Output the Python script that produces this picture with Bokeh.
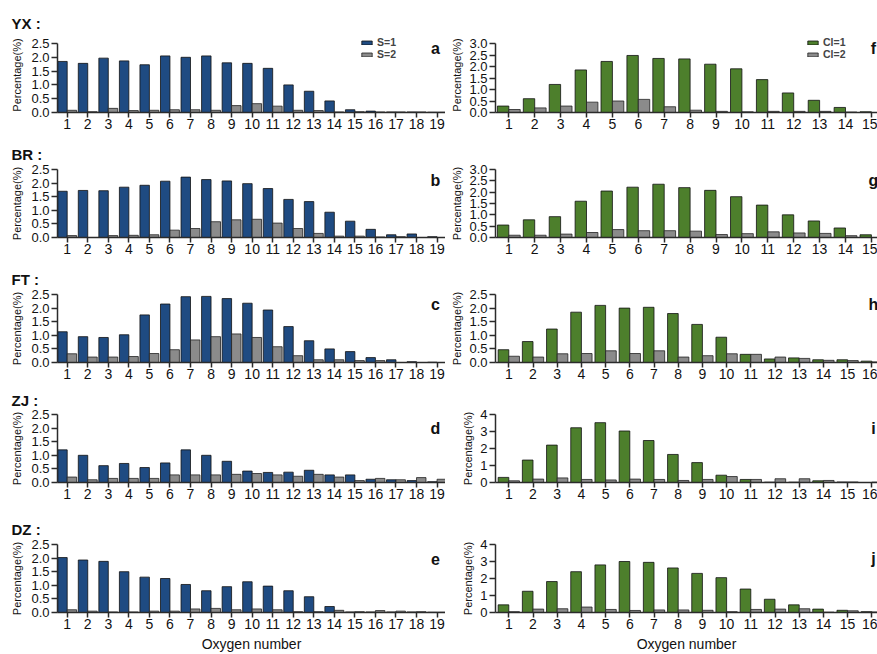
from bokeh.plotting import figure
from bokeh.layouts import column, row
from bokeh.models import (FixedTicker, PrintfTickFormatter, Label, Legend,
                          LegendItem, ColumnDataSource, Title)
from bokeh.transform import dodge
from bokeh.embed import file_html
from bokeh.resources import INLINE

# ---- data: percentage of formulas by oxygen number ----
oxygen_s = list(range(1, 20))
oxygen_cl_short = list(range(1, 16))
oxygen_cl_long = list(range(1, 17))

sites = ["YX", "BR", "FT", "ZJ", "DZ"]

# S-containing compounds (S=1 / S=2)
yx_s1 = [1.85, 1.78, 1.97, 1.87, 1.73, 2.05, 2.00, 2.05, 1.80, 1.78, 1.60, 1.00, 0.77, 0.42, 0.10, 0.05, 0.02, 0.02, 0.01]
yx_s2 = [0.08, 0.03, 0.15, 0.07, 0.08, 0.10, 0.10, 0.08, 0.25, 0.32, 0.23, 0.08, 0.07, 0.02, 0.03, 0.02, 0.02, 0.02, 0.01]
br_s1 = [1.70, 1.73, 1.72, 1.85, 1.92, 2.07, 2.22, 2.13, 2.08, 1.98, 1.80, 1.40, 1.32, 0.93, 0.60, 0.30, 0.10, 0.13, 0.03]
br_s2 = [0.07, 0.00, 0.07, 0.08, 0.10, 0.27, 0.33, 0.58, 0.65, 0.67, 0.53, 0.33, 0.15, 0.05, 0.05, 0.02, 0.03, 0.00, 0.00]
ft_s1 = [1.13, 0.95, 0.92, 1.02, 1.75, 2.15, 2.42, 2.43, 2.35, 2.18, 1.93, 1.32, 0.80, 0.50, 0.40, 0.18, 0.10, 0.03, 0.01]
ft_s2 = [0.32, 0.20, 0.20, 0.22, 0.33, 0.47, 0.83, 0.95, 1.05, 0.92, 0.58, 0.25, 0.10, 0.10, 0.07, 0.07, 0.00, 0.00, 0.00]
zj_s1 = [1.20, 1.00, 0.62, 0.70, 0.55, 0.72, 1.20, 1.00, 0.78, 0.42, 0.37, 0.38, 0.45, 0.28, 0.28, 0.12, 0.10, 0.07, 0.03]
zj_s2 = [0.20, 0.10, 0.15, 0.15, 0.15, 0.28, 0.28, 0.28, 0.30, 0.33, 0.28, 0.23, 0.30, 0.20, 0.07, 0.15, 0.10, 0.18, 0.12]
dz_s1 = [2.02, 1.93, 1.88, 1.50, 1.30, 1.25, 1.03, 0.80, 0.95, 1.13, 0.97, 0.80, 0.58, 0.22, 0.02, 0.02, 0.02, 0.02, 0.01]
dz_s2 = [0.10, 0.05, 0.02, 0.02, 0.05, 0.05, 0.13, 0.15, 0.10, 0.13, 0.10, 0.03, 0.03, 0.08, 0.03, 0.07, 0.05, 0.03, 0.01]

# Cl-containing compounds (Cl=1 / Cl=2)
yx_cl1 = [0.28, 0.60, 1.22, 1.85, 2.22, 2.48, 2.35, 2.33, 2.10, 1.90, 1.43, 0.85, 0.53, 0.22, 0.03]
yx_cl2 = [0.13, 0.20, 0.28, 0.45, 0.50, 0.57, 0.25, 0.10, 0.05, 0.03, 0.05, 0.05, 0.05, 0.02, 0.00]
br_cl1 = [0.55, 0.78, 0.92, 1.60, 2.05, 2.22, 2.35, 2.20, 2.08, 1.80, 1.43, 1.00, 0.73, 0.42, 0.12]
br_cl2 = [0.10, 0.10, 0.15, 0.22, 0.35, 0.30, 0.30, 0.28, 0.13, 0.17, 0.25, 0.20, 0.18, 0.08, 0.00]
ft_cl1 = [0.47, 0.77, 1.23, 1.85, 2.10, 2.00, 2.03, 1.80, 1.40, 0.93, 0.30, 0.13, 0.17, 0.10, 0.10, 0.05]
ft_cl2 = [0.23, 0.20, 0.32, 0.33, 0.43, 0.33, 0.43, 0.20, 0.25, 0.32, 0.30, 0.20, 0.15, 0.08, 0.07, 0.02]
zj_cl1 = [0.30, 1.32, 2.20, 3.22, 3.52, 3.03, 2.47, 1.65, 1.17, 0.43, 0.18, 0.02, 0.02, 0.10, 0.03, 0.00]
zj_cl2 = [0.10, 0.20, 0.27, 0.18, 0.15, 0.20, 0.18, 0.12, 0.18, 0.35, 0.18, 0.22, 0.22, 0.12, 0.03, 0.02]
dz_cl1 = [0.45, 1.25, 1.82, 2.40, 2.80, 3.00, 2.95, 2.62, 2.30, 2.05, 1.38, 0.78, 0.45, 0.20, 0.13, 0.05]
dz_cl2 = [0.05, 0.20, 0.22, 0.32, 0.18, 0.12, 0.15, 0.15, 0.13, 0.05, 0.18, 0.20, 0.22, 0.02, 0.10, 0.03]

s_ticks_y = [0, 0.5, 1.0, 1.5, 2.0, 2.5]
cl_ticks_y = [[0, 0.5, 1.0, 1.5, 2.0, 2.5, 3.0],
              [0, 0.5, 1.0, 1.5, 2.0, 2.5, 3.0],
              [0, 0.5, 1.0, 1.5, 2.0, 2.5],
              [0, 1, 2, 3, 4],
              [0, 1, 2, 3, 4]]
cl_formats = ["%.1f", "%.1f", "%.1f", "%d", "%d"]

s_series = [(yx_s1, yx_s2), (br_s1, br_s2), (ft_s1, ft_s2), (zj_s1, zj_s2), (dz_s1, dz_s2)]
cl_series = [(yx_cl1, yx_cl2), (br_cl1, br_cl2), (ft_cl1, ft_cl2), (zj_cl1, zj_cl2), (dz_cl1, dz_cl2)]
cl_oxygen = [oxygen_cl_short, oxygen_cl_short, oxygen_cl_long, oxygen_cl_long, oxygen_cl_long]

left_letters = ["a", "b", "c", "d", "e"]
right_letters = ["f", "g", "h", "i", "j"]

BLUE = "#1f4b82"
GREEN = "#4d7f2c"
GRAY = "#8b8b8b"
AXIS = "#2b2b2b"
FONT = "Liberation Sans"

AXIS_PX = 69  # pixel length of each value axis
# per row: (figure height, border above frame, border below frame, headroom px)
rows_geom = [(136, 37, 24, 6), (125, 32, 24, 0), (123, 32, 22, 0),
             (127, 29, 29, 0), (143, 32, 42, 0)]
title_standoff = [12, 14, 14, 11, 14]
letter_y = [64, 57, 58, 54, 54]


def make_panel(width, border_left, geom, x_range, oxygen, first, second,
               colors, names, y_ticks, fmt, letter, let_y, title=None,
               tit_standoff=12, legend_x=None, xlabel=False, ylabel_standoff=5):
    height, top, bottom, headroom = geom
    y_top = y_ticks[-1]
    y_end = y_top * (AXIS_PX + headroom) / AXIS_PX
    p = figure(width=width, height=height, output_backend="svg",
               toolbar_location=None, x_range=x_range,
               y_range=(0, y_end),
               min_border_left=border_left, min_border_right=0,
               min_border_top=top, min_border_bottom=bottom)
    p.outline_line_color = None
    p.grid.grid_line_color = None
    p.background_fill_color = "white"
    p.border_fill_color = None

    src = ColumnDataSource(dict(ox=oxygen, a=first, b=second))
    bw = 0.44 if width < 440 else 0.46
    off = bw / 2
    r1 = p.vbar(x=dodge("ox", -off, range=p.x_range), top="a", width=bw,
                source=src, fill_color=colors[0], line_color="#111111",
                line_width=0.8)
    r2 = p.vbar(x=dodge("ox", off, range=p.x_range), top="b", width=bw,
                source=src, fill_color=GRAY, line_color="#222222",
                line_width=0.8)

    xa = p.xaxis[0]
    xa.ticker = FixedTicker(ticks=oxygen)
    xa.major_tick_out = 5
    xa.major_tick_in = 0
    xa.minor_tick_line_color = None
    xa.major_label_standoff = 1
    xa.major_label_text_font = FONT
    xa.major_label_text_font_size = "14px"
    xa.major_label_text_color = "#111111"
    xa.axis_line_color = AXIS
    xa.axis_line_width = 1.5
    xa.major_tick_line_color = AXIS
    xa.major_tick_line_width = 1.5
    if xlabel:
        xa.axis_label = "Oxygen number"
        xa.axis_label_text_font = FONT
        xa.axis_label_text_font_size = "14px"
        xa.axis_label_text_font_style = "normal"
        xa.axis_label_text_color = "#111111"
        xa.axis_label_standoff = 4

    ya = p.yaxis[0]
    ya.bounds = (0, y_top)
    ya.ticker = FixedTicker(ticks=y_ticks)
    ya.formatter = PrintfTickFormatter(format=fmt)
    ya.major_tick_out = 6
    ya.major_tick_in = 0
    ya.minor_tick_line_color = None
    ya.major_label_standoff = 2
    ya.major_label_text_font = FONT
    ya.major_label_text_font_size = "13px"
    ya.major_label_text_color = "#111111"
    ya.axis_line_color = AXIS
    ya.axis_line_width = 1.5
    ya.major_tick_line_color = AXIS
    ya.major_tick_line_width = 1.5
    ya.axis_label = "Percentage(%)"
    ya.axis_label_text_font = FONT
    ya.axis_label_text_font_size = "11px"
    ya.axis_label_text_font_style = "normal"
    ya.axis_label_text_color = "#111111"
    ya.axis_label_standoff = ylabel_standoff

    p.add_layout(Label(x=378, y=let_y, x_units="screen", y_units="screen",
                       text=letter, text_font=FONT, text_font_size="16px",
                       text_font_style="bold", text_align="center",
                       text_baseline="middle", text_color="#111111"))
    if title is not None:
        p.add_layout(Title(text=title + " :", align="left", offset=-46,
                           standoff=tit_standoff, text_font=FONT,
                           text_font_size="15px", text_font_style="bold",
                           text_color="#111111"), "above")
    if legend_x is not None:
        leg = Legend(items=[LegendItem(label=names[0], renderers=[r1]),
                            LegendItem(label=names[1], renderers=[r2])],
                     location=(legend_x, 52), orientation="vertical",
                     padding=0, margin=0, spacing=0,
                     glyph_width=13, glyph_height=5, label_height=10,
                     label_standoff=4, label_text_font=FONT,
                     label_text_font_size="10.5px", label_text_font_style="bold",
                     background_fill_alpha=0, border_line_color=None)
        p.add_layout(leg)
    return p


rows = []
for i in range(5):
    left = make_panel(445, 57, rows_geom[i], (0.528, 19.41), oxygen_s,
                      s_series[i][0], s_series[i][1], (BLUE, GRAY),
                      ("S=1", "S=2"), s_ticks_y, "%.1f", left_letters[i],
                      letter_y[i], title=sites[i],
                      tit_standoff=title_standoff[i],
                      legend_x=303 if i == 0 else None, xlabel=(i == 4),
                      ylabel_standoff=5)
    if i < 2:
        xr = (0.486, 15.235)
    else:
        xr = (0.450, 16.235)
    right = make_panel(432, 50, rows_geom[i], xr, cl_oxygen[i],
                       cl_series[i][0], cl_series[i][1], (GREEN, GRAY),
                       ("Cl=1", "Cl=2"), cl_ticks_y[i], cl_formats[i],
                       right_letters[i], letter_y[i],
                       legend_x=311 if i == 0 else None, xlabel=(i == 4),
                       ylabel_standoff=3)
    rows.append(row(left, right, spacing=0))

layout = column(*rows, spacing=0)

with open("out.html", "w") as f:
    f.write(file_html(layout, INLINE))
